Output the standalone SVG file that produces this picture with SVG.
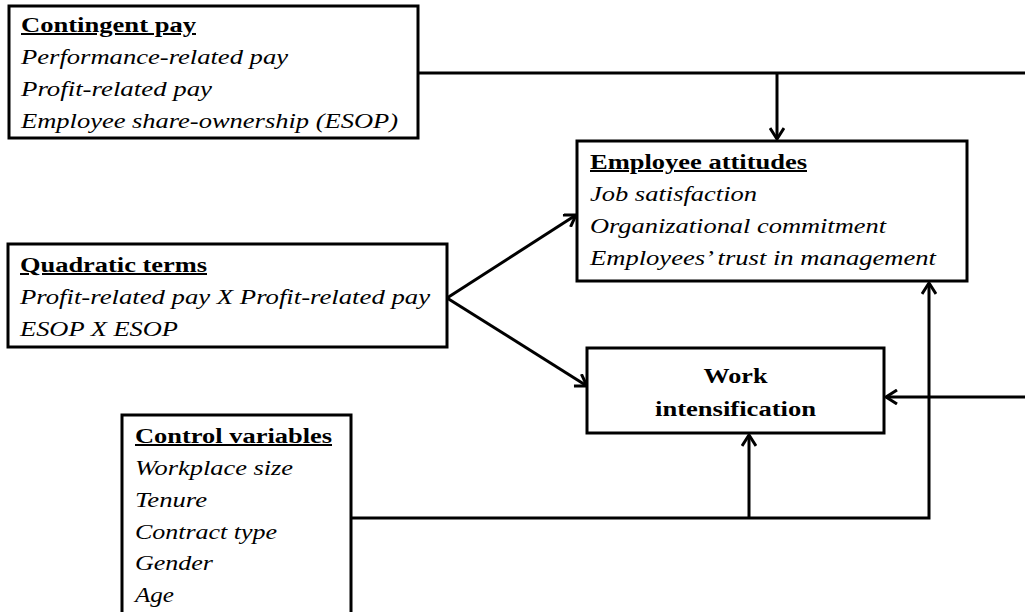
<svg xmlns="http://www.w3.org/2000/svg" width="1025" height="612" viewBox="0 0 1025 612">
<style>
.box{fill:#fff;stroke:#000;stroke-width:3}
.t{font-family:"Liberation Serif","Times New Roman",serif;font-size:20px;fill:#000}
.h{font-weight:bold;text-decoration:underline}
.i{font-style:italic}
.b{font-weight:bold}
.c{fill:none;stroke:#000;stroke-width:3}
</style>
<defs>
<marker id="arr" markerUnits="userSpaceOnUse" markerWidth="16" markerHeight="16" viewBox="0 0 16 16" refX="14" refY="8" orient="auto">
<path d="M3,1 L14,8 L3,15" fill="none" stroke="#000" stroke-width="3"/>
</marker>
</defs>
<rect width="1025" height="612" fill="#fff"/>
<g id="connectors">
<path class="c" d="M418,73 H1025"/>
<path class="c" d="M777,73 V139" marker-end="url(#arr)"/>
<path class="c" d="M447,298 L576,215" marker-end="url(#arr)"/>
<path class="c" d="M447,298 L587,386" marker-end="url(#arr)"/>
<path class="c" d="M1025,397 H886" marker-end="url(#arr)"/>
<path class="c" d="M351,518 H929 V283" marker-end="url(#arr)"/>
<path class="c" d="M749,518 V435" marker-end="url(#arr)"/>
</g>
<g id="contingent-pay">
<rect class="box" x="9" y="6" width="409" height="132"/>
<text class="t h" x="21" y="32" textLength="175" lengthAdjust="spacingAndGlyphs">Contingent pay</text>
<text class="t i" x="21" y="64" textLength="267" lengthAdjust="spacingAndGlyphs">Performance-related pay</text>
<text class="t i" x="21" y="96" textLength="191" lengthAdjust="spacingAndGlyphs">Profit-related pay</text>
<text class="t i" x="21" y="128" textLength="377" lengthAdjust="spacingAndGlyphs">Employee share-ownership (ESOP)</text>
</g>
<g id="employee-attitudes">
<rect class="box" x="577" y="141" width="390" height="140"/>
<text class="t h" x="590" y="169" textLength="217" lengthAdjust="spacingAndGlyphs">Employee attitudes</text>
<text class="t i" x="590" y="201" textLength="167" lengthAdjust="spacingAndGlyphs">Job satisfaction</text>
<text class="t i" x="590" y="233" textLength="296" lengthAdjust="spacingAndGlyphs">Organizational commitment</text>
<text class="t i" x="590" y="265" textLength="346" lengthAdjust="spacingAndGlyphs">Employees’ trust in management</text>
</g>
<g id="quadratic-terms">
<rect class="box" x="8" y="244" width="439" height="103"/>
<text class="t h" x="20" y="272" textLength="187" lengthAdjust="spacingAndGlyphs">Quadratic terms</text>
<text class="t i" x="20" y="304" textLength="410" lengthAdjust="spacingAndGlyphs">Profit-related pay X Profit-related pay</text>
<text class="t i" x="20" y="336" textLength="158" lengthAdjust="spacingAndGlyphs">ESOP X ESOP</text>
</g>
<g id="work-intensification">
<rect class="box" x="587" y="348" width="297" height="85"/>
<text class="t b" x="735.5" y="383" text-anchor="middle" textLength="64" lengthAdjust="spacingAndGlyphs">Work</text>
<text class="t b" x="735.5" y="416" text-anchor="middle" textLength="161" lengthAdjust="spacingAndGlyphs">intensification</text>
</g>
<g id="control-variables">
<rect class="box" x="122" y="415" width="229" height="210"/>
<text class="t h" x="135" y="443" textLength="197" lengthAdjust="spacingAndGlyphs">Control variables</text>
<text class="t i" x="135" y="475" textLength="158" lengthAdjust="spacingAndGlyphs">Workplace size</text>
<text class="t i" x="135" y="507" textLength="72" lengthAdjust="spacingAndGlyphs">Tenure</text>
<text class="t i" x="135" y="539" textLength="142" lengthAdjust="spacingAndGlyphs">Contract type</text>
<text class="t i" x="135" y="570" textLength="78" lengthAdjust="spacingAndGlyphs">Gender</text>
<text class="t i" x="135" y="602" textLength="39" lengthAdjust="spacingAndGlyphs">Age</text>
</g>
</svg>
